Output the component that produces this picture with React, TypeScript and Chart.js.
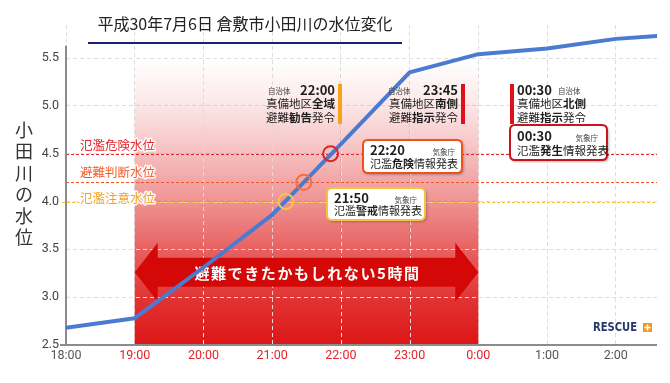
import React, { useEffect, useRef } from 'react';
import { Chart, registerables } from 'chart.js';

Chart.register(...registerables);

// ---- data ----
const hours = [18, 19, 20, 21, 22, 23, 24, 25, 26, 26.6];
const levels = [2.68, 2.78, 3.31, 3.86, 4.6, 5.35, 5.54, 5.6, 5.7, 5.73];
const xTicks = [18, 19, 20, 21, 22, 23, 24, 25, 26];
const xTickLabels = ['18:00', '19:00', '20:00', '21:00', '22:00', '23:00', '0:00', '1:00', '2:00'];
const alertHours = [19, 20, 21, 22, 23, 24];
const yTicks = [2.5, 3.0, 3.5, 4.0, 4.5, 5.0, 5.5];
const thresholdNames = ['氾濫危険水位', '避難判断水位', '氾濫注意水位'];
const thresholdLevels = [4.5, 4.2, 4.0];
const crossingHours = [21.85, 21.46, 21.2];
const windowStart = 19;
const windowEnd = 24;
const arrowLevel = 3.26;
const windowLabel = '避難できたかもしれない5時間';
const titleText = '平成30年7月6日 倉敷市小田川の水位変化';
const yTitleText = '小田川の水位';

const JP = '"Noto Sans CJK JP", "Noto Sans", sans-serif';
const TICKF = '"Liberation Sans Narrow", Roboto, "DejaVu Sans", sans-serif';

const thresholdLineColors = ['#e3262b', '#f0552d', '#f8c440'];
const thresholdTextColors = ['#e3262b', '#f05a2a', '#f5a21e'];
const circleColors = ['#d9252a', '#f07040', '#f8c448'];

type Seg = [string, boolean];

function drawRich(ctx: CanvasRenderingContext2D, segs: Seg[], x: number, y: number, size: number, align: 'left' | 'right', color: string) {
  let total = 0;
  const widths = segs.map(([t, b]) => {
    ctx.font = `${b ? 'bold ' : ''}${size}px ${JP}`;
    const w = ctx.measureText(t).width;
    total += w;
    return w;
  });
  let cx = align === 'left' ? x : x - total;
  ctx.fillStyle = color;
  ctx.textAlign = 'left';
  ctx.textBaseline = 'middle';
  segs.forEach(([t, b], i) => {
    ctx.font = `${b ? 'bold ' : ''}${size}px ${JP}`;
    ctx.fillText(t, cx, y);
    cx += widths[i];
  });
}

function roundRect(ctx: CanvasRenderingContext2D, x: number, y: number, w: number, h: number, r: number) {
  ctx.beginPath();
  ctx.moveTo(x + r, y);
  ctx.lineTo(x + w - r, y);
  ctx.quadraticCurveTo(x + w, y, x + w, y + r);
  ctx.lineTo(x + w, y + h - r);
  ctx.quadraticCurveTo(x + w, y + h, x + w - r, y + h);
  ctx.lineTo(x + r, y + h);
  ctx.quadraticCurveTo(x, y + h, x, y + h - r);
  ctx.lineTo(x, y + r);
  ctx.quadraticCurveTo(x, y, x + r, y);
  ctx.closePath();
}

const deco = {
  id: 'deco',
  beforeDatasetsDraw(chart: any) {
    const { ctx, chartArea: ca, scales } = chart;
    const xs = scales.x;
    const ys = scales.y;
    const x0 = xs.getPixelForValue(windowStart);
    const x1 = xs.getPixelForValue(windowEnd);
    ctx.save();
    // red gradient window
    const g = ctx.createLinearGradient(0, 60, 0, ca.bottom);
    const span = ca.bottom - 60;
    const st = (yy: number) => Math.min(1, Math.max(0, (yy - 60) / span));
    g.addColorStop(0, 'rgba(221,22,22,0)');
    g.addColorStop(st(100), 'rgba(221,22,22,0.09)');
    g.addColorStop(st(150), 'rgba(221,22,22,0.26)');
    g.addColorStop(st(200), 'rgba(221,22,22,0.46)');
    g.addColorStop(st(250), 'rgba(221,22,22,0.68)');
    g.addColorStop(st(300), 'rgba(221,22,22,0.88)');
    g.addColorStop(1, 'rgba(221,22,22,1)');
    ctx.fillStyle = g;
    ctx.fillRect(x0, ca.top, x1 - x0, ca.bottom - ca.top);

    // white grid overlay inside window
    ctx.save();
    ctx.beginPath();
    ctx.rect(x0, ca.top, x1 - x0, ca.bottom - ca.top);
    ctx.clip();
    const wg = ctx.createLinearGradient(0, 60, 0, ca.bottom);
    wg.addColorStop(0, 'rgba(255,255,255,0)');
    wg.addColorStop(0.4, 'rgba(255,255,255,0.6)');
    wg.addColorStop(1, 'rgba(255,255,255,0.85)');
    ctx.strokeStyle = wg;
    ctx.lineWidth = 1;
    ctx.setLineDash([4, 3]);
    xTicks.forEach((v) => {
      if (v > windowStart && v < windowEnd) {
        const px = Math.round(xs.getPixelForValue(v)) + 0.5;
        ctx.beginPath();
        ctx.moveTo(px, ca.top);
        ctx.lineTo(px, ca.bottom);
        ctx.stroke();
      }
    });
    yTicks.forEach((v) => {
      if (v > 2.5) {
        const py = Math.round(ys.getPixelForValue(v)) + 0.5;
        ctx.beginPath();
        ctx.moveTo(ca.left, py);
        ctx.lineTo(ca.right, py);
        ctx.stroke();
      }
    });
    ctx.restore();

    // threshold lines
    ctx.setLineDash([3, 2]);
    ctx.lineWidth = 1.2;
    thresholdLevels.forEach((lv, i) => {
      const py = Math.round(ys.getPixelForValue(lv)) + 0.5;
      ctx.strokeStyle = thresholdLineColors[i];
      ctx.beginPath();
      ctx.moveTo(i === 2 ? ca.left - 4 : ca.left, py);
      ctx.lineTo(ca.right, py);
      ctx.stroke();
    });
    ctx.setLineDash([]);

    // double arrow
    const ay = ys.getPixelForValue(arrowLevel);
    const head = 23;
    const hh = 29.5;
    const bh = 14.5;
    ctx.beginPath();
    ctx.moveTo(x0, ay);
    ctx.lineTo(x0 + head, ay - hh);
    ctx.lineTo(x0 + head, ay - bh);
    ctx.lineTo(x1 - head, ay - bh);
    ctx.lineTo(x1 - head, ay - hh);
    ctx.lineTo(x1, ay);
    ctx.lineTo(x1 - head, ay + hh);
    ctx.lineTo(x1 - head, ay + bh);
    ctx.lineTo(x0 + head, ay + bh);
    ctx.lineTo(x0 + head, ay + hh);
    ctx.closePath();
    ctx.fillStyle = '#d50808';
    ctx.fill();
    ctx.fillStyle = '#ffffff';
    ctx.font = `bold 15px ${JP}`;
    ctx.textAlign = 'center';
    ctx.textBaseline = 'middle';
    (ctx as any).letterSpacing = '1.6px';
    ctx.fillText(windowLabel, (x0 + x1) / 2 + 1, ay + 1);
    (ctx as any).letterSpacing = '0px';

    // axes
    ctx.strokeStyle = '#8c8c8c';
    ctx.lineWidth = 2;
    ctx.beginPath();
    ctx.moveTo(ca.left, ys.getPixelForValue(5.63));
    ctx.lineTo(ca.left, ca.bottom);
    ctx.stroke();
    ctx.beginPath();
    ctx.moveTo(ca.left - 6, ca.bottom);
    ctx.lineTo(ca.right, ca.bottom);
    ctx.stroke();
    ctx.restore();
  },
  afterDatasetsDraw(chart: any) {
    const { ctx } = chart;
    ctx.save();

    // threshold labels
    const labelYs = [145, 172, 198];
    thresholdNames.forEach((n, i) => {
      ctx.font = `12.5px ${JP}`;
      ctx.textAlign = 'left';
      ctx.textBaseline = 'middle';
      ctx.lineJoin = 'round';
      ctx.strokeStyle = 'rgba(255,255,255,0.95)';
      ctx.lineWidth = 3;
      ctx.strokeText(n, 80, labelYs[i]);
      ctx.fillStyle = thresholdTextColors[i];
      ctx.fillText(n, 80, labelYs[i]);
    });

    const dark = '#1e1e1e';
    const small = (t: string, x: number, y: number, align: CanvasTextAlign) => {
      ctx.font = `7.5px ${JP}`;
      ctx.fillStyle = '#444';
      ctx.textAlign = align;
      ctx.textBaseline = 'middle';
      ctx.fillText(t, x, y);
    };
    const timeText = (t: string, x: number, y: number, align: CanvasTextAlign) => {
      ctx.font = `bold 13px ${JP}`;
      ctx.fillStyle = dark;
      ctx.textAlign = align;
      ctx.textBaseline = 'middle';
      ctx.fillText(t, x, y);
    };

    // notice 1 (22:00)
    small('自治体', 268, 91, 'left');
    timeText('22:00', 335, 90, 'right');
    drawRich(ctx, [['真備地区', false], ['全域', true]], 335, 104, 11.5, 'right', dark);
    drawRich(ctx, [['避難', false], ['勧告', true], ['発令', false]], 335, 118, 11.5, 'right', dark);
    ctx.fillStyle = '#f7a21b';
    ctx.fillRect(338, 84, 4, 40);

    // notice 2 (23:45)
    small('自治体', 388, 91, 'left');
    timeText('23:45', 458, 90, 'right');
    drawRich(ctx, [['真備地区', false], ['南側', true]], 458, 104, 11.5, 'right', dark);
    drawRich(ctx, [['避難', false], ['指示', true], ['発令', false]], 458, 118, 11.5, 'right', dark);
    ctx.fillStyle = '#e0101a';
    ctx.fillRect(461, 84, 4, 40);

    // notice 3 (00:30)
    ctx.fillStyle = '#e0101a';
    ctx.fillRect(510, 84, 4, 40);
    timeText('00:30', 517, 90, 'left');
    small('自治体', 558, 91, 'left');
    drawRich(ctx, [['真備地区', false], ['北側', true]], 517, 104, 11.5, 'left', dark);
    drawRich(ctx, [['避難', false], ['指示', true], ['発令', false]], 517, 118, 11.5, 'left', dark);

    // boxes
    const box = (bx: number, by: number, bw: number, bhh: number, color: string) => {
      ctx.save();
      ctx.shadowColor = 'rgba(0,0,0,0.35)';
      ctx.shadowBlur = 3;
      ctx.shadowOffsetX = 1.5;
      ctx.shadowOffsetY = 1.5;
      roundRect(ctx, bx, by, bw, bhh, 5);
      ctx.fillStyle = '#ffffff';
      ctx.fill();
      ctx.restore();
      roundRect(ctx, bx, by, bw, bhh, 5);
      ctx.strokeStyle = color;
      ctx.lineWidth = 2;
      ctx.stroke();
    };
    box(510, 125, 97, 35, '#c8141e');
    timeText('00:30', 517, 136, 'left');
    small('気象庁', 598, 138, 'right');
    drawRich(ctx, [['氾濫', false], ['発生', true], ['情報発表', false]], 517, 151, 11.5, 'left', dark);

    box(363, 140, 99, 33, '#f0501e');
    timeText('22:20', 370, 150, 'left');
    small('気象庁', 455, 152, 'right');
    drawRich(ctx, [['氾濫', false], ['危険', true], ['情報発表', false]], 370, 164, 11, 'left', dark);

    box(327, 188, 98, 32, '#f5c242');
    timeText('21:50', 334, 198, 'left');
    small('気象庁', 417, 200, 'right');
    drawRich(ctx, [['氾濫', false], ['警戒', true], ['情報発表', false]], 334, 211, 11, 'left', dark);

    // title
    ctx.font = `16px ${JP}`;
    ctx.fillStyle = '#222';
    ctx.textAlign = 'center';
    ctx.textBaseline = 'middle';
    ctx.fillText(titleText, 245, 24);
    ctx.fillStyle = '#1a1f71';
    ctx.fillRect(88, 42, 314, 2);

    // y title (vertical)
    ctx.font = `18px ${JP}`;
    ctx.fillStyle = '#333';
    ctx.textAlign = 'center';
    Array.from(yTitleText).forEach((ch, i) => {
      ctx.fillText(ch, 24, 130 + i * 21.5);
    });

    // logo
    ctx.save();
    ctx.translate(593, 328);
    ctx.scale(0.8, 1);
    ctx.font = `bold 12.5px ${'"DejaVu Sans", sans-serif'}`;
    ctx.fillStyle = '#26386a';
    ctx.textAlign = 'left';
    ctx.textBaseline = 'middle';
    ctx.fillText('RESCUE', 0, 0);
    ctx.restore();
    ctx.fillStyle = '#f39a1e';
    ctx.fillRect(643, 323, 9, 9);
    ctx.fillStyle = '#ffffff';
    ctx.fillRect(646.7, 324.5, 1.6, 6);
    ctx.fillRect(644.5, 326.7, 6, 1.6);

    ctx.restore();
  },
};

export default function App() {
  const ref = useRef<HTMLCanvasElement | null>(null);
  useEffect(() => {
    if (!ref.current) return;
    const chart = new Chart(ref.current, {
      type: 'line',
      data: {
        datasets: [
          {
            data: crossingHours.map((h, i) => ({ x: h, y: thresholdLevels[i] })),
            showLine: false,
            pointRadius: 7.5,
            pointHoverRadius: 7.5,
            pointBorderWidth: 2,
            pointBorderColor: circleColors,
            pointBackgroundColor: 'rgba(0,0,0,0)',
          },
          {
            data: hours.map((h, i) => ({ x: h, y: levels[i] })),
            borderColor: '#4a7bd0',
            borderWidth: 4,
            pointRadius: 0,
            tension: 0,
            borderCapStyle: 'round',
            borderJoinStyle: 'round',
          },
        ],
      } as any,
      options: {
        responsive: false,
        animation: false,
        devicePixelRatio: 1,
        events: [],
        layout: { padding: { top: 25, right: 13, left: 0, bottom: 0 } },
        plugins: { legend: { display: false }, tooltip: { enabled: false } },
        scales: {
          x: {
            type: 'linear',
            min: 18,
            max: 26.6,
            afterBuildTicks: (s: any) => {
              s.ticks = xTicks.map((v) => ({ value: v }));
            },
            afterFit: (s: any) => {
              s.height = 38;
            },
            ticks: {
              autoSkip: false,
              maxRotation: 0,
              padding: 3,
              font: { family: TICKF, size: 12.5 },
              color: (c: any) => (alertHours.includes(c.tick?.value) ? '#e3242b' : '#555'),
              callback: (v: any) => xTickLabels[xTicks.indexOf(Number(v))] ?? '',
            },
            grid: { color: '#dedede', lineWidth: 1, drawTicks: false },
            border: { display: false, dash: [4, 3] },
          },
          y: {
            type: 'linear',
            min: 2.5,
            max: 5.845,
            afterBuildTicks: (s: any) => {
              s.ticks = yTicks.map((v) => ({ value: v }));
            },
            afterFit: (s: any) => {
              s.width = 66;
            },
            ticks: {
              padding: 7,
              font: { family: TICKF, size: 12.5 },
              color: '#444',
              callback: (v: any) => Number(v).toFixed(1),
            },
            grid: { color: '#dedede', lineWidth: 1, drawTicks: false },
            border: { display: false, dash: [4, 3] },
          },
        },
      } as any,
      plugins: [deco],
    });
    return () => chart.destroy();
  }, []);
  return (
    <div style={{ position: 'fixed', left: 0, top: 0, width: 670, height: 383, background: '#fff' }}>
      <canvas ref={ref} width={670} height={383} style={{ display: 'block' }} />
    </div>
  );
}
